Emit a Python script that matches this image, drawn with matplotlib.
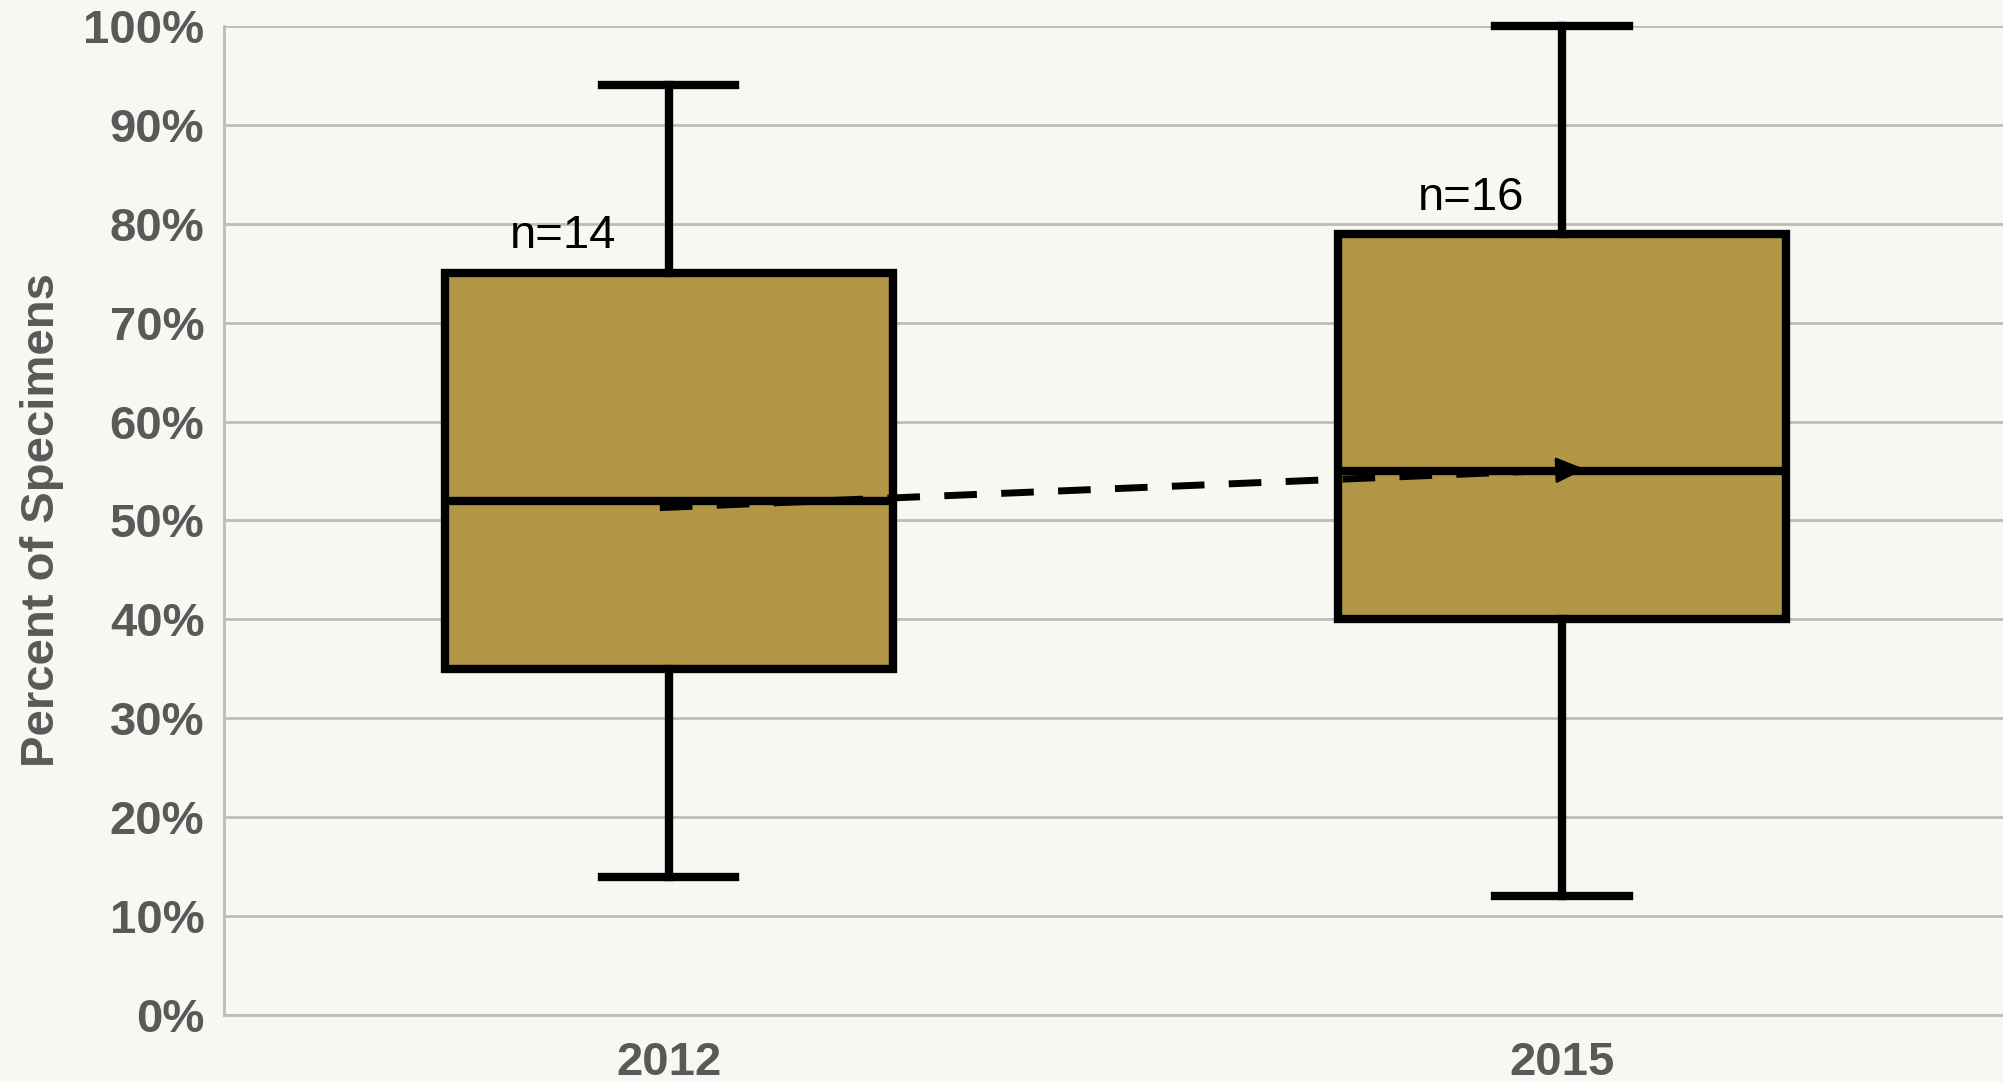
import matplotlib.pyplot as plt

# Box summary values (percent of specimens)
years = ['2012', '2015']
whisker_low = [14, 12]
q1 = [35, 40]
median = [52, 55]
q3 = [75, 79]
whisker_high = [94, 100]
counts = ['n=14', 'n=16']

# Trend arrow between medians
trend_x = [0.49, 1.53]
trend_y = [51.3, 55.2]

bg = '#f9f7f1'
fill = '#b09645'
grey = '#595959'
grid_col = '#bdbdb7'

plt.rcParams['font.family'] = ['Liberation Sans', 'DejaVu Sans']

fig = plt.figure(figsize=(20.03, 10.82), dpi=100, facecolor=bg)
ax = fig.add_axes([0.1118, 0.0619, 0.8882, 0.9141])
ax.set_facecolor(bg)

positions = [0.5, 1.504]
stats = []
for i in range(len(years)):
    stats.append({'label': years[i], 'whislo': whisker_low[i], 'q1': q1[i],
                  'med': median[i], 'q3': q3[i], 'whishi': whisker_high[i],
                  'fliers': []})

lw = 6
bp = ax.bxp(stats, positions=positions, widths=0.504, patch_artist=True,
            showfliers=False, manage_ticks=False,
            boxprops=dict(facecolor=fill, edgecolor='black', linewidth=lw),
            medianprops=dict(color='black', linewidth=lw),
            whiskerprops=dict(color='black', linewidth=lw),
            capprops=dict(color='black', linewidth=lw),
            capwidths=0.15, zorder=3)
for art in bp['caps'] + bp['whiskers']:
    art.set_clip_on(False)

# dashed trend line with arrow head
ax.plot([trend_x[0], trend_x[1] - 0.02], [trend_y[0], trend_y[1] - 0.07],
        color='black', lw=5, dashes=(4.7, 3.5), zorder=5)
dx = trend_x[1] - trend_x[0]
dy = trend_y[1] - trend_y[0]
ax.annotate('', xy=(trend_x[1], trend_y[1]),
            xytext=(trend_x[1] - 0.03 * dx, trend_y[1] - 0.03 * dy),
            arrowprops=dict(arrowstyle='-|>,head_length=1.8,head_width=0.8',
                            color='black', lw=2, shrinkA=0, shrinkB=0),
            zorder=6)

# n labels
ax.text(0.381, 78.8, counts[0], fontsize=34, ha='center', va='center', color='black')
ax.text(1.402, 82.6, counts[1], fontsize=34, ha='center', va='center', color='black')

ax.set_xlim(0, 2)
ax.set_ylim(0, 100)
ax.set_yticks(range(0, 101, 10))
ax.set_yticklabels([f'{v}%' for v in range(0, 101, 10)])
ax.set_xticks(positions)
ax.set_xticklabels(years)
ax.tick_params(axis='y', length=0, pad=14, labelsize=34, labelcolor=grey)
ax.tick_params(axis='x', length=0, pad=19, labelsize=34, labelcolor=grey)
for lab in ax.get_xticklabels() + ax.get_yticklabels():
    lab.set_fontweight('bold')

ax.yaxis.grid(True, color=grid_col, lw=2, zorder=0)
ax.set_axisbelow(True)
for s in ['top', 'right']:
    ax.spines[s].set_visible(False)
for s in ['left', 'bottom']:
    ax.spines[s].set_color(grid_col)
    ax.spines[s].set_linewidth(2)

ax.set_ylabel('Percent of Specimens', fontsize=34, fontweight='bold', color=grey)
ax.yaxis.set_label_coords(-0.090, 0.5)

fig.savefig('out.png', dpi=100, facecolor=bg)
